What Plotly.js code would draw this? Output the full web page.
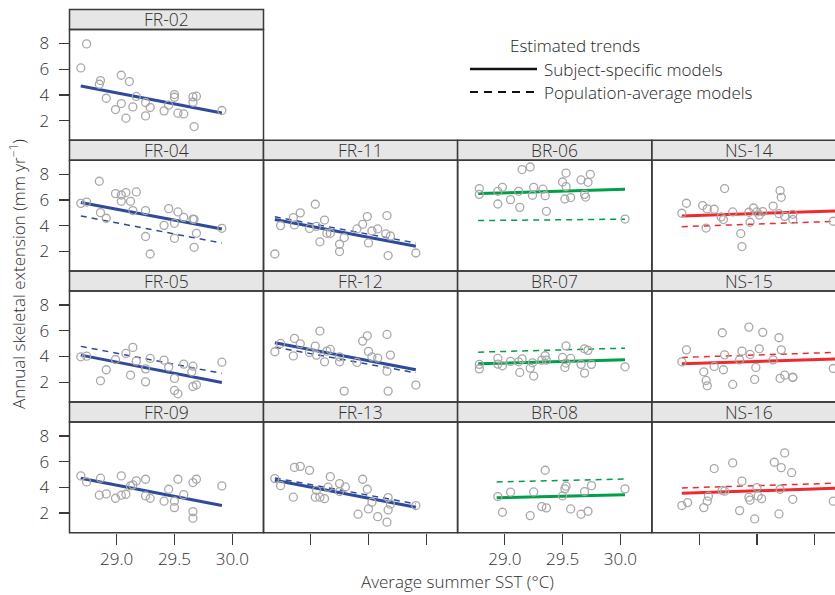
<!DOCTYPE html>
<html><head><meta charset="utf-8">
<script src="https://cdn.plot.ly/plotly-3.0.1.min.js"></script>
<style>html,body{margin:0;padding:0;overflow:hidden;background:#fff}</style>
</head><body><div id="chart" style="width:835px;height:595px"></div>
<script>
// ---------- data ----------
const PANEL_NAMES = ['FR-02','FR-04','FR-11','BR-06','NS-14','FR-05','FR-12','BR-07','NS-15','FR-09','FR-13','BR-08','NS-16'];
const PANEL_ROWS  = [1,2,2,2,2,3,3,3,3,4,4,4,4];
const PANEL_COLS  = [1,1,2,3,4,1,2,3,4,1,2,3,4];
const PANEL_REGION = ['FR','FR','FR','BR','NS','FR','FR','BR','NS','FR','FR','BR','NS'];

const FR02_SST = [28.74,28.69,28.86,28.85,29.04,29.11,28.91,29.17,29.04,28.99,29.08,29.14,29.25,29.29,29.25,29.41,29.45,29.50,29.50,29.53,29.58,29.66,29.69,29.66,29.67,29.91];
const FR02_EXT = [7.97,6.10,5.12,4.83,5.53,5.04,3.74,3.88,3.33,2.86,2.19,3.07,3.41,3.02,2.37,2.76,3.20,4.03,3.82,2.58,2.52,3.85,3.90,3.43,1.54,2.79];
const FR04_SST = [28.69,28.74,28.85,28.99,29.04,29.08,29.17,29.04,29.12,28.86,28.91,29.14,29.25,29.25,29.29,29.41,29.45,29.53,29.50,29.50,29.58,29.66,29.67,29.69,29.67,29.91];
const FR04_EXT = [5.74,5.84,7.46,6.50,6.39,6.58,6.63,5.90,5.90,5.02,4.58,5.18,5.18,3.16,1.80,4.03,5.33,5.07,4.19,3.02,4.65,4.52,4.50,3.41,2.32,3.80];
const FR11_SST = [28.69,28.74,28.85,28.86,28.91,28.99,29.04,29.05,29.12,29.08,29.14,29.17,29.29,29.25,29.25,29.40,29.45,29.49,29.53,29.58,29.50,29.66,29.65,29.69,29.67,29.91];
const FR11_EXT = [1.80,4.01,4.63,4.06,5.00,3.79,5.67,3.95,4.44,2.75,3.41,3.41,3.08,2.56,1.99,3.75,4.11,4.71,3.59,3.75,2.66,4.79,3.36,3.20,1.68,1.88];
const BR06_SST = [28.78,28.78,28.94,28.98,28.94,29.05,29.13,29.12,29.15,29.22,29.25,29.24,29.33,29.35,29.36,29.50,29.53,29.53,29.52,29.57,29.66,29.72,29.74,29.69,29.70,30.04];
const BR06_EXT = [6.89,6.44,6.68,6.99,5.69,6.03,5.43,6.68,8.37,8.57,6.99,6.37,6.84,6.34,5.12,7.40,8.10,7.04,6.08,6.19,7.56,7.38,8.00,6.44,6.23,4.52];
const NS14_SST = [28.85,28.89,29.03,29.07,29.13,29.06,29.22,29.19,29.21,29.29,29.36,29.37,29.43,29.44,29.47,29.50,29.52,29.55,29.64,29.70,29.71,29.69,29.74,29.81,29.81,30.16];
const NS14_EXT = [4.97,5.75,5.57,5.31,5.28,3.82,6.89,4.68,4.48,5.07,3.39,2.38,5.05,4.27,5.38,5.07,4.83,5.10,5.53,6.73,6.21,4.94,4.73,4.89,4.48,4.35];
const FR05_SST = [28.69,28.74,28.91,28.86,28.99,29.08,29.14,29.17,29.12,29.25,29.25,29.29,29.41,29.45,29.50,29.50,29.53,29.58,29.66,29.65,29.66,29.69,29.91];
const FR05_EXT = [3.98,4.03,2.97,2.11,3.77,4.24,4.71,3.64,2.55,3.04,2.03,3.85,3.72,3.18,2.30,1.36,1.10,3.41,3.25,2.81,1.67,1.80,3.56];
const FR12_SST = [28.69,28.74,28.85,28.86,28.91,28.99,29.04,29.05,29.08,29.12,29.14,29.17,29.25,29.25,29.29,29.40,29.45,29.49,29.50,29.53,29.58,29.66,29.66,29.69,29.67,29.91];
const FR12_EXT = [4.37,5.02,4.05,5.41,4.99,4.32,4.81,4.11,5.98,3.59,4.42,4.55,3.98,3.59,1.31,3.54,5.20,5.61,4.40,3.98,3.88,5.72,2.86,4.11,1.31,1.78];
const BR07_SST = [28.78,28.78,28.94,28.94,28.98,29.05,29.12,29.15,29.13,29.22,29.24,29.25,29.32,29.35,29.36,29.50,29.53,29.53,29.52,29.57,29.66,29.69,29.72,29.75,29.69,30.04];
const BR07_EXT = [3.39,3.04,3.85,3.41,3.28,3.62,3.59,3.82,2.76,3.10,3.51,2.48,3.72,4.06,3.72,3.93,4.83,3.49,3.15,3.85,3.39,4.60,4.48,3.39,2.71,3.20];
const NS15_SST = [28.85,28.89,29.04,29.06,29.07,29.13,29.20,29.21,29.22,29.29,29.35,29.37,29.43,29.44,29.49,29.48,29.52,29.55,29.64,29.69,29.71,29.70,29.74,29.81,29.81,30.16];
const NS15_EXT = [3.59,4.52,2.81,2.14,1.72,3.23,5.85,2.97,4.13,1.83,3.74,4.42,6.29,4.16,3.15,2.22,4.60,5.88,3.74,5.46,4.52,2.30,2.55,2.40,2.37,3.07];
const FR09_SST = [28.69,28.74,28.86,28.85,28.91,28.99,29.04,29.04,29.08,29.12,29.14,29.17,29.25,29.25,29.29,29.41,29.45,29.50,29.50,29.53,29.58,29.66,29.69,29.66,29.66,29.91];
const FR09_EXT = [4.89,4.42,4.71,3.39,3.49,3.15,4.89,3.39,3.46,4.11,4.19,4.50,4.63,3.33,3.15,2.92,3.85,2.92,2.42,4.63,3.43,4.37,4.63,2.11,1.60,4.11];
const FR13_SST = [28.69,28.74,28.85,28.86,28.91,28.99,29.04,29.05,29.08,29.12,29.15,29.17,29.25,29.25,29.30,29.41,29.45,29.49,29.50,29.53,29.58,29.67,29.67,29.69,29.66,29.91];
const FR13_EXT = [4.68,4.13,3.23,5.55,5.63,5.32,3.23,3.77,3.23,3.12,4.01,4.83,4.29,3.67,4.03,1.91,4.63,3.85,2.32,2.84,1.72,3.20,2.24,2.69,1.29,2.58];
const BR08_SST = [28.94,28.98,29.05,29.22,29.25,29.32,29.36,29.35,29.50,29.52,29.53,29.57,29.66,29.69,29.72,29.75,30.04];
const BR08_EXT = [3.28,2.06,3.62,1.80,3.64,2.50,2.40,5.33,3.33,3.88,4.09,2.32,1.91,3.67,2.14,4.13,3.88];
const NS16_SST = [28.85,28.90,29.04,29.07,29.08,29.13,29.20,29.22,29.29,29.35,29.37,29.43,29.44,29.48,29.50,29.51,29.54,29.65,29.71,29.74,29.70,29.69,29.80,29.81,30.16];
const NS16_EXT = [2.58,2.81,2.42,2.92,3.31,5.46,3.77,3.70,5.90,2.19,4.48,3.23,3.00,1.54,3.98,3.33,3.12,5.95,5.53,6.68,3.85,1.93,5.14,3.07,2.92];

// trend line end points (x = SST at ends, y = extension)
const TREND_X = [[28.69,29.91],[28.69,29.91],[28.69,29.91],[28.77,30.04],[28.85,30.18],
                 [28.69,29.91],[28.69,29.91],[28.77,30.04],[28.85,30.18],
                 [28.69,29.91],[28.69,29.91],[28.93,30.04],[28.85,30.18]];
const SUBJECT_Y = [[4.70,2.60],[5.80,3.74],[4.49,2.41],[6.50,6.83],[4.76,5.15],
                   [4.11,1.98],[5.07,2.97],[3.43,3.74],[3.43,3.80],
                   [4.71,2.58],[4.55,2.45],[3.18,3.43],[3.54,3.93]];
const POPULATION_Y = [[4.70,2.60],[4.76,2.65],[4.69,2.66],[4.40,4.51],[3.93,4.34],
                      [4.79,2.69],[4.73,2.73],[4.34,4.65],[3.93,4.32],
                      [4.71,2.58],[4.73,2.71],[4.42,4.65],[3.95,4.32]];

const X_TICKS = [29.0, 29.5, 30.0];
const X_TICK_TEXT = ['29.0','29.5','30.0'];
const Y_TICKS = [2,4,6,8];

const SERIES_X = [FR02_SST,FR04_SST,FR11_SST,BR06_SST,NS14_SST,FR05_SST,FR12_SST,BR07_SST,NS15_SST,FR09_SST,FR13_SST,BR08_SST,NS16_SST];
const SERIES_Y = [FR02_EXT,FR04_EXT,FR11_EXT,BR06_EXT,NS14_EXT,FR05_EXT,FR12_EXT,BR07_EXT,NS15_EXT,FR09_EXT,FR13_EXT,BR08_EXT,NS16_EXT];

// ---------- styling / layout geometry ----------
const W = 835, H = 595;
const REGION_COLOR = {FR:'#2e4a9c', BR:'#00a04b', NS:'#ee2a2e'};
const FONT = '"Open Sans", "DejaVu Sans", sans-serif';
const TXT = '#2e2e2e';
const WT = 300;
const COL_X0 = [69.5, 263.5, 457.6, 652];
const COL_X1 = [263.5, 457.6, 651.8, 846];
const ROW_HEAD = [9.5, 140.3, 271.1, 401.9];
const HEAD_H = 20, PLOT_H = 110.8;
const PX_PER_UNIT = 115.6;
const X_MIN = 28.592;

const px = v => v / W;
const py = v => 1 - v / H;

const traces = [];
const layout = {
  width: W, height: H,
  margin: {l:0, r:0, t:0, b:0},
  paper_bgcolor: '#fff', plot_bgcolor: 'rgba(0,0,0,0)',
  showlegend: false,
  font: {family: FONT, color: TXT, weight: WT},
  shapes: [], annotations: []
};

PANEL_NAMES.forEach((name, k) => {
  const r = PANEL_ROWS[k], c = PANEL_COLS[k];
  const id = k === 0 ? '' : String(k + 1);
  const xa = 'x' + id, ya = 'y' + id;
  const colr = REGION_COLOR[PANEL_REGION[k]];
  const x0 = COL_X0[c-1], x1 = Math.min(COL_X1[c-1], W);
  const top = ROW_HEAD[r-1] + HEAD_H, bot = top + PLOT_H;

  traces.push({x: TREND_X[k], y: POPULATION_Y[k], xaxis: xa, yaxis: ya, mode: 'lines',
    line: {color: colr, width: 1.5, dash: '6px,5px'}, hoverinfo: 'skip'});
  traces.push({x: TREND_X[k], y: SUBJECT_Y[k], xaxis: xa, yaxis: ya, mode: 'lines',
    line: {color: colr, width: 3}, hoverinfo: 'skip'});
  traces.push({x: SERIES_X[k], y: SERIES_Y[k], xaxis: xa, yaxis: ya, mode: 'markers',
    marker: {symbol: 'circle-open', size: 8, color: '#a8a8a8', line: {width: 1.3, color: '#a8a8a8'}},
    cliponaxis: true});

  const bottomRow = r === 4;
  layout['xaxis' + id] = {
    domain: [px(x0), px(x1)], anchor: ya,
    range: [X_MIN, X_MIN + (x1 - x0) / PX_PER_UNIT],
    showgrid: false, zeroline: false, showline: false,
    tickvals: X_TICKS, ticktext: X_TICK_TEXT,
    ticks: bottomRow ? 'outside' : '', ticklen: 11, tickwidth: 1.3, tickcolor: '#3a3a3a',
    showticklabels: bottomRow && (c === 1 || c === 3),
    tickfont: {size: 17, color: TXT, family: FONT, weight: WT},
    fixedrange: true
  };
  layout['yaxis' + id] = {
    domain: [py(bot), py(top)], anchor: xa,
    range: [0.47, 9.09],
    showgrid: false, zeroline: false, showline: false,
    tickvals: Y_TICKS,
    ticks: c === 1 ? 'outside' : '', ticklen: 10, tickwidth: 1.3, tickcolor: '#3a3a3a',
    showticklabels: c === 1,
    ticklabelstandoff: 6,
    tickfont: {size: 17, color: TXT, family: FONT, weight: WT},
    fixedrange: true
  };

  // header strip
  layout.shapes.push({type:'rect', xref:'paper', yref:'paper',
    x0: px(COL_X0[c-1]), x1: px(COL_X1[c-1]), y0: py(top), y1: py(ROW_HEAD[r-1]),
    fillcolor:'#e6e6e7', line:{color:'#3a3a3a', width:1.5}, layer:'below'});
  // plot frame
  layout.shapes.push({type:'rect', xref:'paper', yref:'paper',
    x0: px(COL_X0[c-1]), x1: px(COL_X1[c-1]), y0: py(bot), y1: py(top),
    fillcolor:'rgba(0,0,0,0)', line:{color:'#3a3a3a', width:1.5}});
  layout.annotations.push({xref:'paper', yref:'paper',
    x: px((COL_X0[c-1] + COL_X1[c-1]) / 2), y: py(ROW_HEAD[r-1] + HEAD_H / 2),
    text: name, showarrow:false, xanchor:'center', yanchor:'middle',
    font:{size:17.5, color:TXT, family:FONT, weight: WT}});
});

// axis titles
layout.annotations.push({xref:'paper', yref:'paper', x: px(457), y: py(581),
  text:'Average summer SST (°C)', showarrow:false, xanchor:'center', yanchor:'middle',
  font:{size:17, color:TXT, family:FONT, weight: WT}});
layout.annotations.push({xref:'paper', yref:'paper', x: px(18), y: py(274),
  text:'Annual skeletal extension (mm yr<sup>−1</sup>)', textangle:-90, showarrow:false,
  xanchor:'center', yanchor:'middle', font:{size:17, color:TXT, family:FONT, weight: WT}});

// legend (key)
layout.annotations.push({xref:'paper', yref:'paper', x: px(575), y: py(46),
  text:'Estimated trends', showarrow:false, xanchor:'center', yanchor:'middle',
  font:{size:17, color:'#1e1e1e', family:FONT, weight: WT}});
layout.shapes.push({type:'line', xref:'paper', yref:'paper', x0:px(470), x1:px(537), y0:py(69), y1:py(69),
  line:{color:'#111', width:2.5}});
layout.shapes.push({type:'line', xref:'paper', yref:'paper', x0:px(470), x1:px(537), y0:py(92), y1:py(92),
  line:{color:'#111', width:2, dash:'8px,6px'}});
layout.annotations.push({xref:'paper', yref:'paper', x: px(542), y: py(69),
  text:'Subject-specific models', showarrow:false, xanchor:'left', yanchor:'middle',
  font:{size:17, color:'#1e1e1e', family:FONT, weight: WT}});
layout.annotations.push({xref:'paper', yref:'paper', x: px(542), y: py(92),
  text:'Population-average models', showarrow:false, xanchor:'left', yanchor:'middle',
  font:{size:17, color:'#1e1e1e', family:FONT, weight: WT}});

Plotly.newPlot('chart', traces, layout, {staticPlot:true, displayModeBar:false});
</script></body></html>
